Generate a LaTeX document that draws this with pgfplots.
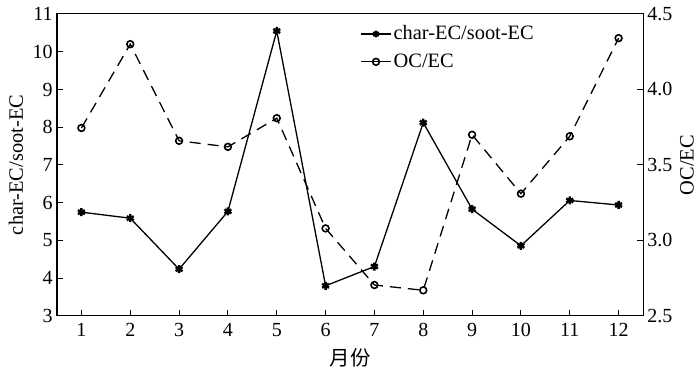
\documentclass[border=0pt]{standalone}
\usepackage{fontspec}
\setmainfont{Liberation Serif}
\newfontfamily\cjk{Noto Sans CJK SC}
\usepackage{pgfplots}
\pgfplotsset{compat=1.18}
\pgfplotstableread{
m ratio oc
1 5.75 3.745
2 5.59 4.30
3 4.24 3.66
4 5.77 3.62
5 10.55 3.81
6 3.80 3.08
7 4.31 2.705
8 8.12 2.67
9 5.83 3.70
10 4.86 3.31
11 6.06 3.69
12 5.94 4.34
}\datatable
\begin{document}
\fontsize{10}{12}\selectfont
\begin{tikzpicture}
\pgfplotsset{
  common/.style={
    scale only axis, width=293pt, height=151pt,
    xmin=0.5, xmax=12.5,
    tick align=inside, major tick length=3pt,
    axis line style={line width=0.5pt},
    every tick/.style={line width=0.5pt, black},
    /pgf/number format/assume math mode=true,
    tick label style={font=\fontsize{10}{12}\selectfont},
    yticklabel style={inner sep=2pt},
    label style={font=\fontsize{10.2}{12}\selectfont, inner sep=0pt},
  },
  charstyle/.style={black, line width=0.65pt, mark=asterisk, mark size=2pt, mark options={solid, line width=1.2pt}},
  ocstyle/.style={black, line width=0.65pt, dash pattern=on 5.5pt off 3.5pt, mark=o, mark size=1.7pt, mark options={solid, line width=0.8pt, fill=white}},
}
\begin{axis}[common,
  ymin=3, ymax=11, ytick={3,4,...,11},
  xtick={1,...,12}, xtick pos=bottom, ytick pos=left,
  ylabel={char-EC/soot-EC},
  ylabel style={at={(axis description cs:-0.07,0.5)}, anchor=center},
  xlabel={\cjk 月份},
  xlabel style={at={(axis description cs:0.5,-0.137)}, anchor=center},
]
\addplot[charstyle] table[x=m, y=ratio] {\datatable};
\coordinate (bl) at (rel axis cs:0,0);
\coordinate (tr) at (rel axis cs:1,1);
\end{axis}
\begin{axis}[common,
  ymin=2.5, ymax=4.5, ytick={2.5,3.0,...,4.5},
  xtick=\empty, ytick pos=right, yticklabel pos=right,
  yticklabel style={/pgf/number format/.cd, fixed, fixed zerofill, precision=1},
  ylabel={OC/EC},
  ylabel style={at={(axis description cs:1.075,0.5)}, anchor=center, rotate=0},
  legend style={draw=none, fill=none, at={(0.517,0.97)}, anchor=north west,
    font=\fontsize{10.2}{12}\selectfont, row sep=3.5pt, inner sep=0pt,
    nodes={inner sep=1pt}},
  legend cell align=left,
  legend image code/.code={\draw[mark repeat=2,mark phase=2,#1,solid,mark size=1.7pt] plot coordinates {(0pt,0pt) (7.5pt,0pt) (15pt,0pt)};},
]
\addlegendimage{charstyle}
\addlegendentry{char-EC/soot-EC}
\addplot[ocstyle] table[x=m, y=oc] {\datatable};
\addlegendentry{OC/EC}
\end{axis}
\pgfresetboundingbox
\path[use as bounding box] ([xshift=-28.5pt,yshift=-28pt]bl) rectangle ([xshift=28.5pt,yshift=7pt]tr);
\end{tikzpicture}
\end{document}
